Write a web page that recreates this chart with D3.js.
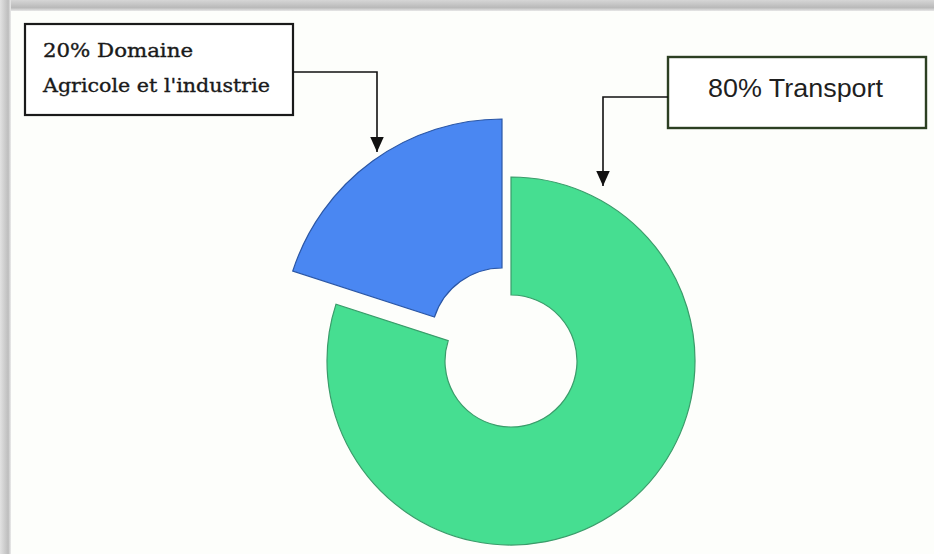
<!DOCTYPE html>
<html><head><meta charset="utf-8">
<script src="https://cdn.jsdelivr.net/npm/d3@7"></script>
<style>body{margin:0;background:#fff}svg{display:block}</style>
</head><body>
<svg id="c" width="934" height="554"></svg>
<script>
const categories = ["Transport", "Domaine Agricole et l'industrie"];
const values = [80, 20];
const labels = [["80% Transport"], ["20% Domaine", "Agricole et l'industrie"]];
const colors = ["#46de91", "#4a87f2"];
const strokes = ["#3a9c6a", "#2b57a6"];

const svg = d3.select("#c");
const defs = svg.append("defs");
const gt = defs.append("linearGradient").attr("id","gt").attr("x1",0).attr("y1",0).attr("x2",0).attr("y2",1);
gt.append("stop").attr("offset","0%").attr("stop-color","#d6d6d6");
gt.append("stop").attr("offset","70%").attr("stop-color","#b9b9b9");
gt.append("stop").attr("offset","100%").attr("stop-color","#e8e8e8");
const gl = defs.append("linearGradient").attr("id","gl").attr("x1",0).attr("y1",0).attr("x2",1).attr("y2",0);
gl.append("stop").attr("offset","0%").attr("stop-color","#e2e2e2");
gl.append("stop").attr("offset","75%").attr("stop-color","#bdbdbd");
gl.append("stop").attr("offset","100%").attr("stop-color","#ececec");
defs.append("marker").attr("id","ah").attr("viewBox","0 0 10 10").attr("refX",10).attr("refY",5)
  .attr("markerWidth",15).attr("markerHeight",15).attr("markerUnits","userSpaceOnUse")
  .attr("orient","auto").append("path").attr("d","M0,0.5L10,5L0,9.5Z").attr("fill","#111");

svg.append("rect").attr("width",934).attr("height",554).attr("fill","#fdfefb");
svg.append("rect").attr("x",0).attr("y",0).attr("width",934).attr("height",11).attr("fill","url(#gt)");
svg.append("rect").attr("x",0).attr("y",0).attr("width",11).attr("height",554).attr("fill","url(#gl)");

const pie = d3.pie().sort(null).value(d => d).startAngle(0).endAngle(2*Math.PI);
const arcs = pie(values);
const geo = [
  {cx:511, cy:361, R:184, r:66},
  {cx:502, cy:339, R:220, r:71}
];
arcs.forEach((a,i) => {
  const g = geo[i];
  svg.append("path")
    .attr("transform", `translate(${g.cx},${g.cy})`)
    .attr("d", d3.arc().innerRadius(g.r).outerRadius(g.R)(a))
    .attr("fill", colors[i]).attr("stroke", strokes[i]).attr("stroke-width",1.2);
});

// Left box
svg.append("rect").attr("x",25).attr("y",24).attr("width",268).attr("height",91)
  .attr("fill","#fff").attr("stroke","#1a1a1a").attr("stroke-width",2.2);
const lw = [150, 227];
labels[1].forEach((s,k) => svg.append("text").attr("x",43).attr("y",57+k*35)
  .attr("font-family","DejaVu Serif").attr("font-size",18.5).attr("fill","#1a1a1a")
  .attr("stroke","#1a1a1a").attr("stroke-width",0.35)
  .attr("textLength",lw[k]).attr("lengthAdjust","spacingAndGlyphs").text(s));
svg.append("path").attr("d","M293,72H377V152").attr("fill","none").attr("stroke","#111").attr("stroke-width",1.6)
  .attr("marker-end","url(#ah)");

// Right box
svg.append("rect").attr("x",668).attr("y",57).attr("width",258).attr("height",71)
  .attr("fill","#fff").attr("stroke","#2c3f22").attr("stroke-width",2.4);
svg.append("text").attr("x",708).attr("y",97)
  .attr("font-family","Liberation Sans").attr("font-size",25).attr("fill","#1f1f1f")
  .attr("textLength",175).attr("lengthAdjust","spacingAndGlyphs").text(labels[0][0]);
svg.append("path").attr("d","M668,97H603V186").attr("fill","none").attr("stroke","#111").attr("stroke-width",1.6)
  .attr("marker-end","url(#ah)");
</script>
</body></html>
